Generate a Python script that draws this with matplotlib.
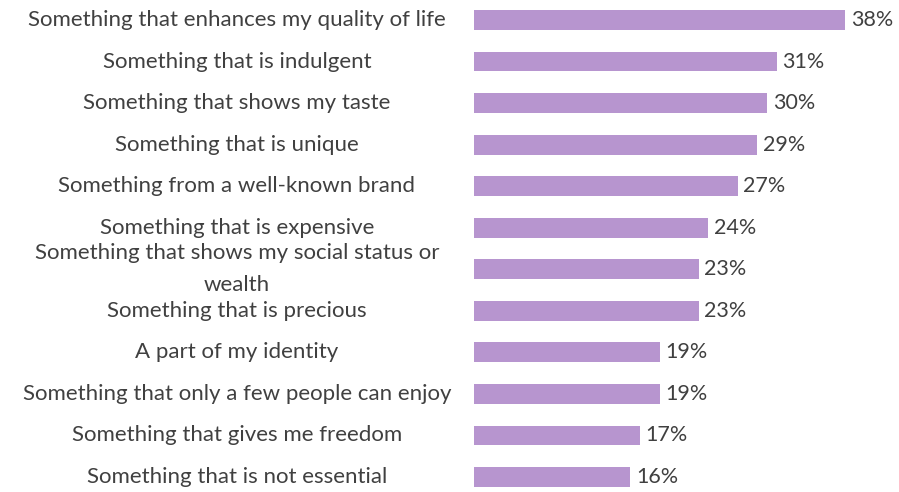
import matplotlib
matplotlib.use("Agg")
import matplotlib.pyplot as plt
import matplotlib.transforms as mtransforms

# survey answers, top to bottom
labels = [
    "Something that enhances my quality of life",
    "Something that is indulgent",
    "Something that shows my taste",
    "Something that is unique",
    "Something from a well-known brand",
    "Something that is expensive",
    "Something that shows my social status or\nwealth",
    "Something that is precious",
    "A part of my identity",
    "Something that only a few people can enjoy",
    "Something that gives me freedom",
    "Something that is not essential",
]
values = [38, 31, 30, 29, 27, 24, 23, 23, 19, 19, 17, 16]

bar_color = "#b795cf"
text_color = "#404040"

plt.rcParams["font.family"] = ["Lato", "DejaVu Sans"]

fig = plt.figure(figsize=(8.99, 4.92), dpi=100)
ax = fig.add_axes([474 / 899, 0, 425 / 899, 1])

ypos = list(range(len(values)))
ax.barh(ypos, values, height=0.48, color=bar_color)
ax.set_xlim(0, 43.5)
ax.set_ylim(11.36, -0.48)
ax.axis("off")

# value labels just past each bar end
for y, v in zip(ypos, values):
    ax.annotate(f"{v}%", (v, y), xytext=(4, 0), textcoords="offset points",
                va="center", ha="left", fontsize=15.5, color=text_color)

# category labels, centred in the left-hand column
trans = mtransforms.blended_transform_factory(fig.transFigure, ax.transData)
for y, lab in zip(ypos, labels):
    ax.text(237 / 899, y, lab, transform=trans, ha="center", va="center",
            fontsize=16, color=text_color, linespacing=1.75, clip_on=False)

fig.savefig("out.png", dpi=100, facecolor="white")
